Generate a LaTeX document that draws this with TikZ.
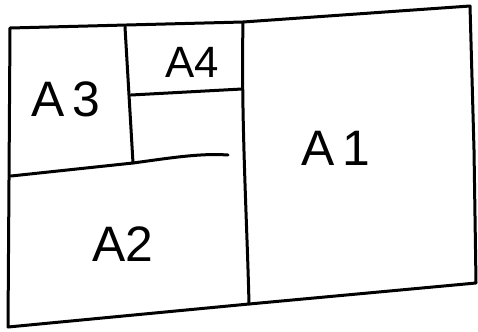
\documentclass[tikz,border=0pt]{standalone}
\usepackage{fontspec}
\setmainfont{Liberation Sans}
\begin{document}
\begin{tikzpicture}[x=1bp,y=-1bp,
  pen/.style={line width=3bp, line cap=round, line join=round, black},
  lbl/.style={font=\fontsize{50}{52}\selectfont, inner sep=0pt}]
\useasboundingbox[fill=white] (0,0) rectangle (478,331);
% outer frame
\coordinate (tl) at (10,28);
\coordinate (tr) at (470,6);
\coordinate (br) at (476,283);
\coordinate (bl) at (8,327);
\draw[pen] (tl) -- (243,22) -- (tr) -- (474,150) -- (br) -- (249,304) -- (bl) -- (9,180) -- cycle;
% main vertical divider
\coordinate (v1t) at (243,22);
\coordinate (v1b) at (249,304);
\draw[pen] (v1t) .. controls (241,120) and (247,220) .. (v1b);
% A2 top line
\coordinate (h2l) at (11,176);
\coordinate (h2m) at (133,163);
\coordinate (h2r) at (228,155);
\draw[pen] (h2l) -- (h2m) .. controls (170,158) and (200,153) .. (h2r);
% A3 / A4 divider
\coordinate (v2t) at (125,27);
\draw[pen] (v2t) -- (h2m);
% A4 bottom line
\coordinate (h4l) at (131,95);
\coordinate (h4r) at (242,89);
\draw[pen] (h4l) -- (h4r);
% labels
\node[lbl] (A3) at (66,99) {A\,3};
\node[lbl, font=\fontsize{44}{46}\selectfont] (A4) at (192,62) {A4};
\node[lbl] (A1) at (336,148) {A\,1};
\node[lbl] (A2) at (123,244) {A2};
\end{tikzpicture}
\end{document}
